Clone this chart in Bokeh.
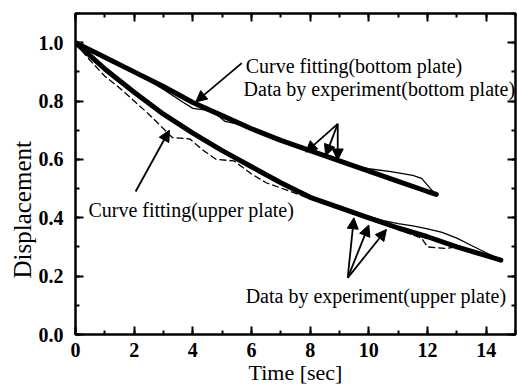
from bokeh.plotting import figure
from bokeh.models import (Range1d, LinearAxis, SingleIntervalTicker, NumeralTickFormatter,
                          Label, Arrow, NormalHead, Title, CustomJSTickFormatter)
from bokeh.embed import file_html
from bokeh.resources import INLINE

# ---- data ----
t_bottom_fit = [0, 1, 2, 3, 4, 5, 6, 7, 8, 9, 10, 11, 12, 12.3]
d_bottom_fit = [1.0, 0.95, 0.9, 0.85, 0.795, 0.75, 0.705, 0.665, 0.63, 0.595, 0.56, 0.525, 0.49, 0.48]

t_bottom_exp = [0, 0.5, 1, 1.5, 2, 2.5, 3, 3.6, 4.0, 4.4, 4.8, 5.1, 5.5, 6, 7, 8, 8.5, 9, 9.6, 10,
                10.75, 11.5, 11.8, 12.1, 12.25]
d_bottom_exp = [1.0, 0.97, 0.945, 0.92, 0.895, 0.87, 0.84, 0.80, 0.775, 0.77, 0.755, 0.73, 0.722,
                0.705, 0.665, 0.63, 0.612, 0.595, 0.576, 0.568, 0.558, 0.545, 0.535, 0.50, 0.483]

t_upper_fit = [0, 1, 2, 3, 4, 5, 6, 7, 8, 9, 10, 11, 12, 13, 14, 14.5]
d_upper_fit = [1.0, 0.91, 0.83, 0.755, 0.69, 0.63, 0.575, 0.52, 0.47, 0.435, 0.40, 0.365, 0.335,
               0.30, 0.27, 0.255]

t_upper_exp1 = [0, 0.5, 1, 1.5, 2, 2.5, 3, 3.5, 4, 4.5, 5, 5.5, 6, 6.5, 7, 7.5, 8, 8.5, 9, 9.5, 10,
                10.5, 11, 11.5, 12, 12.5, 13, 13.5, 14, 14.5]
d_upper_exp1 = [1.0, 0.95, 0.905, 0.865, 0.825, 0.79, 0.755, 0.72, 0.69, 0.66, 0.63, 0.60, 0.575,
                0.55, 0.525, 0.50, 0.475, 0.455, 0.44, 0.42, 0.405, 0.39, 0.38, 0.372, 0.362, 0.35,
                0.33, 0.305, 0.28, 0.255]

t_upper_exp2 = [0, 0.4, 1, 1.5, 2, 2.5, 3.0, 3.3, 3.9, 4.3, 4.8, 5.4, 6.0, 6.5, 7.2, 8, 9, 10, 11,
                11.8, 12.0, 12.6, 13.0, 13.5, 14, 14.5]
d_upper_exp2 = [1.0, 0.95, 0.885, 0.845, 0.80, 0.755, 0.705, 0.675, 0.67, 0.635, 0.60, 0.595, 0.55,
                0.52, 0.495, 0.465, 0.43, 0.395, 0.36, 0.33, 0.30, 0.295, 0.3, 0.285, 0.265, 0.255]

x_ticks_interval = 2
y_ticks_interval = 0.2

# annotation texts and anchors (data units)
ann_text = ["Curve fitting(bottom plate)", "Data by experiment(bottom plate)",
            "Curve fitting(upper plate)", "Data by experiment(upper plate)"]
ann_x = [5.8, 5.73, 0.44, 5.8]
ann_y = [0.92, 0.842, 0.426, 0.133]

# arrows: (tail_t, tail_d, head_t, head_d)
arrows = [
    (5.67, 0.93, 4.1, 0.797),
    (8.94, 0.722, 7.85, 0.625),
    (8.94, 0.722, 8.53, 0.613),
    (8.94, 0.722, 8.94, 0.598),
    (2.05, 0.49, 3.2, 0.70),
    (9.28, 0.194, 9.49, 0.40),
    (9.28, 0.194, 10.0, 0.375),
    (9.28, 0.194, 10.6, 0.36),
]

SERIF = "Liberation Serif"

p = figure(width=517, height=387, output_backend="svg", toolbar_location=None,
           x_range=Range1d(0, 15), y_range=Range1d(0, 1.1),
           min_border_left=75, min_border_right=2, min_border_top=13, min_border_bottom=20)
p.background_fill_color = "white"
p.border_fill_color = "white"
p.grid.visible = False
p.outline_line_color = "black"
p.outline_line_width = 2.5

def style_axis(ax, labels=True):
    ax.axis_line_color = None
    ax.major_tick_in = 8
    ax.major_tick_out = 0
    ax.minor_tick_in = 4
    ax.minor_tick_out = 0
    ax.major_tick_line_width = 2
    ax.minor_tick_line_width = 2
    ax.major_tick_line_color = "black"
    ax.minor_tick_line_color = "black"
    ax.major_label_text_font = SERIF
    ax.major_label_text_font_style = "bold"
    ax.major_label_text_font_size = "20px"
    ax.major_label_text_color = "black"
    if not labels:
        ax.formatter = CustomJSTickFormatter(code="return ''")
        ax.major_label_standoff = 0

xa = p.xaxis[0]
xa.ticker = SingleIntervalTicker(interval=x_ticks_interval, num_minor_ticks=2)
style_axis(xa)
xa.major_label_standoff = 8
xa.axis_label = "Time [sec]"
xa.axis_label_text_font = SERIF
xa.axis_label_text_font_style = "normal"
xa.axis_label_text_font_size = "22px"
xa.axis_label_text_color = "black"
xa.axis_label_standoff = 0

ya = p.yaxis[0]
ya.ticker = SingleIntervalTicker(interval=y_ticks_interval, num_minor_ticks=2)
ya.formatter = NumeralTickFormatter(format="0.0")
style_axis(ya)
ya.major_label_standoff = 12

top = LinearAxis(ticker=SingleIntervalTicker(interval=x_ticks_interval, num_minor_ticks=2))
style_axis(top, labels=False)
p.add_layout(top, "above")
right = LinearAxis(ticker=SingleIntervalTicker(interval=y_ticks_interval, num_minor_ticks=2))
style_axis(right, labels=False)
p.add_layout(right, "right")

# y-axis title, shifted below centre like the reference
ytitle = Title(text="Displacement", align="left", offset=56, text_font=SERIF,
               text_font_size="25px", text_font_style="normal", text_color="black",
               standoff=0)
p.add_layout(ytitle, "left")

# lines
p.line(t_bottom_exp, d_bottom_exp, line_color="black", line_width=1.3)
p.line(t_upper_exp1, d_upper_exp1, line_color="black", line_width=1.3)
p.line(t_upper_exp2, d_upper_exp2, line_color="black", line_width=1.3, line_dash="7 3")
p.line(t_bottom_fit, d_bottom_fit, line_color="black", line_width=5, line_cap="round")
p.line(t_upper_fit, d_upper_fit, line_color="black", line_width=5, line_cap="round")

for (xt, yt, xh, yh) in arrows:
    p.add_layout(Arrow(x_start=xt, y_start=yt, x_end=xh, y_end=yh, line_width=1.8,
                       line_color="black",
                       end=NormalHead(size=11, fill_color="black", line_color="black")))

for txt, x, y in zip(ann_text, ann_x, ann_y):
    p.add_layout(Label(x=x, y=y, text=txt, text_font=SERIF, text_font_size="20px",
                       text_color="black", text_baseline="alphabetic", text_align="left"))

open("out.html", "w").write(file_html(p, INLINE))
